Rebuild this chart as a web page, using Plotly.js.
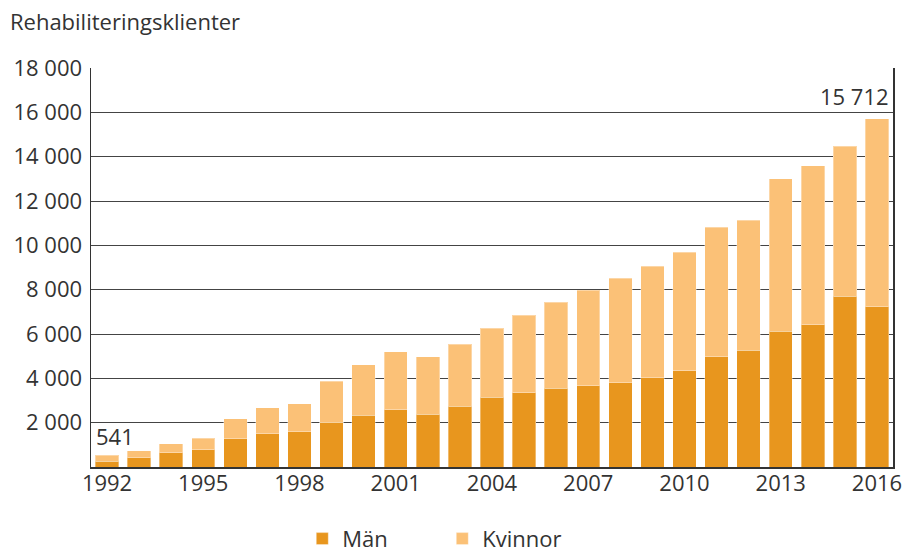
<!DOCTYPE html>
<html>
<head>
<meta charset="utf-8">
<script src="https://cdn.plot.ly/plotly-3.0.1.min.js"></script>
<style>html,body{margin:0;padding:0;background:#fff;}#chart{width:905px;height:553px;}</style>
</head>
<body>
<div id="chart"></div>
<script>
const years = [1992,1993,1994,1995,1996,1997,1998,1999,2000,2001,2002,2003,2004,2005,2006,2007,2008,2009,2010,2011,2012,2013,2014,2015,2016];
const man = [270,410,635,770,1266,1509,1600,2010,2340,2573,2379,2740,3145,3340,3552,3657,3810,4019,4348,4965,5263,6119,6420,7696,7232];
const kvinnor = [271,315,405,528,902,1154,1244,1863,2279,2631,2600,2807,3110,3501,3875,4325,4710,5046,5348,5840,5875,6880,7179,6776,8480];
const xTicks = [1992,1995,1998,2001,2004,2007,2010,2013,2016];
const yTicks = [2000,4000,6000,8000,10000,12000,14000,16000,18000];
const yTickText = ['2 000','4 000','6 000','8 000','10 000','12 000','14 000','16 000','18 000'];
const seriesNames = ['Män','Kvinnor'];
const yTitle = 'Rehabiliteringsklienter';

const totals = man.map((m,i)=>m+kvinnor[i]);
const font = {family:'"Open Sans", sans-serif', size:22, color:'#333'};

const traces = [
  {type:'bar', x:years, y:man, name:seriesNames[0], marker:{color:'#E8961E', line:{color:'rgba(255,255,255,0.35)', width:1}}, hoverinfo:'skip'},
  {type:'bar', x:years, y:kvinnor, name:seriesNames[1], marker:{color:'#FBC177', line:{color:'rgba(255,255,255,0.35)', width:1}}, hoverinfo:'skip'}
];

const first = 0, last = years.length-1;
const layout = {
  width:905, height:553,
  margin:{l:91, r:12, t:68, b:86, pad:0, autoexpand:false},
  barmode:'stack', bargap:0.27,
  paper_bgcolor:'#fff', plot_bgcolor:'#fff',
  font:font,
  showlegend:true,
  legend:{orientation:'h', traceorder:'normal', x:0.438, xanchor:'center', y:-0.18, yanchor:'middle', font:font, entrywidth:95, entrywidthmode:'pixels', itemwidth:30},
  title:{text:yTitle, x:0.011, xanchor:'left', xref:'container', y:0.96, yanchor:'middle', yref:'container', font:font},
  xaxis:{range:[years[0]-0.5, years[last]+0.5], tickvals:xTicks, ticktext:xTicks.map(String), showgrid:false, showline:true, linecolor:'#333', linewidth:1.5, ticks:'', ticklabelstandoff:-4, tickfont:font, zeroline:false, fixedrange:true},
  yaxis:{range:[0,18000], tickvals:yTicks, ticktext:yTickText, showgrid:true, gridcolor:'#444', gridwidth:1, showline:true, mirror:true, linecolor:'#333', linewidth:1.5, ticks:'', ticklabelstandoff:3, tickfont:font, zeroline:false, fixedrange:true},
  annotations:[
    {x:years[first], y:totals[first], text:'', showarrow:false, xanchor:'left', yanchor:'bottom', xshift:-13, yshift:2, font:font},
    {x:years[last], y:totals[last], text:'', showarrow:false, xanchor:'right', yanchor:'bottom', xshift:14, yshift:6, font:font}
  ]
};
layout.annotations[0].text = totals[first].toString();
layout.annotations[1].text = totals[last].toString().replace(/\B(?=(\d{3})+(?!\d))/g,' ');

Plotly.newPlot('chart', traces, layout, {displayModeBar:false, staticPlot:true});
</script>
</body>
</html>
